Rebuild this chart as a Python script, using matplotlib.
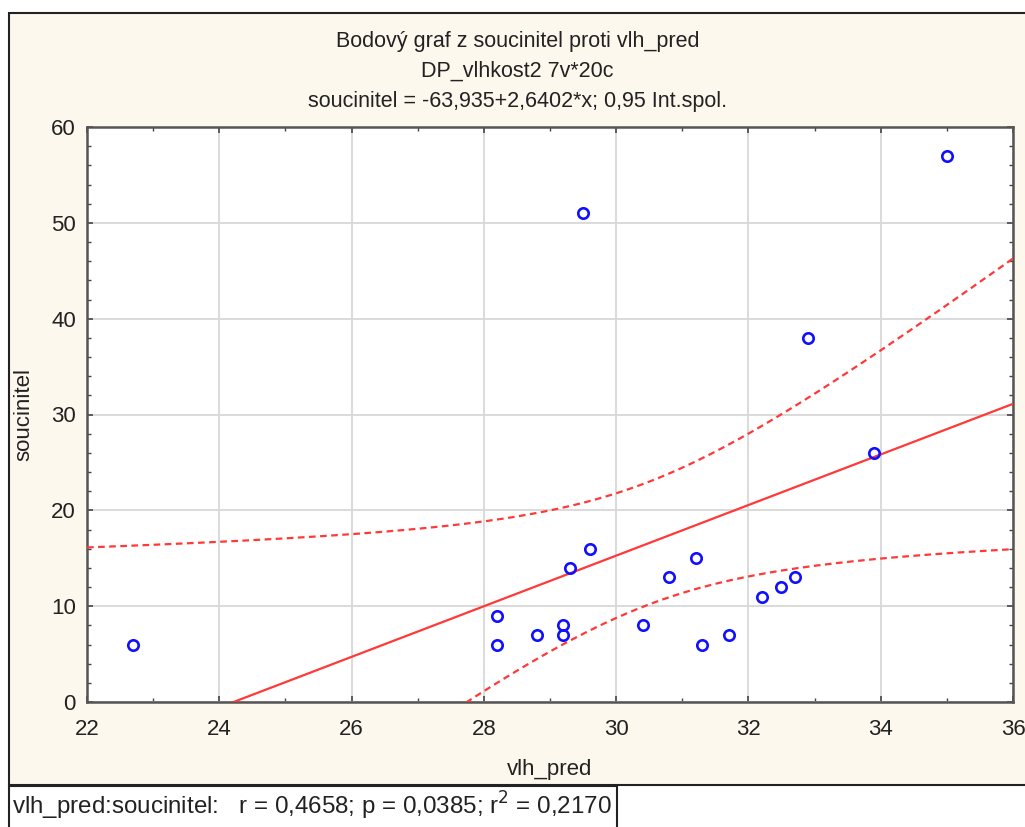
import numpy as np
import matplotlib
matplotlib.use("Agg")
import matplotlib.pyplot as plt
from matplotlib.patches import Rectangle
from matplotlib.ticker import MultipleLocator

# data
vlh_pred = [22.7, 28.2, 28.2, 28.8, 29.2, 29.2, 29.3, 29.5, 29.6, 30.4,
            30.8, 31.2, 31.3, 31.7, 32.2, 32.5, 32.7, 32.9, 33.9, 35.0]
soucinitel = [6, 9, 6, 7, 8, 7, 14, 51, 16, 8,
              13, 15, 6, 7, 11, 12, 13, 38, 26, 57]
intercept = -63.935
slope = 2.6402

plt.rcParams['font.family'] = ['Liberation Sans', 'DejaVu Sans']

fig = plt.figure(figsize=(10.25, 8.27), dpi=100)
fig.patch.set_facecolor('white')

# cream panel with frame
fig.patches.append(Rectangle((9 / 1025, 42 / 827), 1.02, 772 / 827, transform=fig.transFigure,
                             facecolor='#fdf8ee', edgecolor='#222222', linewidth=1.5, zorder=-10))
# stats box at the bottom
fig.patches.append(Rectangle((9 / 1025, -0.02), 608 / 1025, 41 / 827 + 0.02, transform=fig.transFigure,
                             facecolor='white', edgecolor='#222222', linewidth=1.5, zorder=-10))

ax = fig.add_axes([87 / 1025, 125 / 827, 926 / 1025, 575 / 827])
ax.set_facecolor('white')

# regression line + 95% confidence band for the mean
x = np.array(vlh_pred)
y = np.array(soucinitel)
n = len(x)
xs = np.linspace(22, 36, 200)
fit = intercept + slope * xs
resid = y - (intercept + slope * x)
s = np.sqrt(np.sum(resid ** 2) / (n - 2))
sxx = np.sum((x - x.mean()) ** 2)
t = 2.1009  # t(0.975, 18)
half = t * s * np.sqrt(1 / n + (xs - x.mean()) ** 2 / sxx)

ax.plot(xs, fit, color='#ff3838', lw=1.6, zorder=3)
ax.plot(xs, fit + half, color='#ff3838', lw=1.6, ls=(0, (3, 2)), zorder=3)
ax.plot(xs, fit - half, color='#ff3838', lw=1.6, ls=(0, (3, 2)), zorder=3)
ax.plot(x, y, 'o', ms=7.5, mfc='none', mec='#1010ff', mew=1.9, zorder=4)

ax.set_xlim(22, 36)
ax.set_ylim(0, 60)
ax.xaxis.set_major_locator(MultipleLocator(2))
ax.xaxis.set_minor_locator(MultipleLocator(1))
ax.yaxis.set_major_locator(MultipleLocator(10))
ax.yaxis.set_minor_locator(MultipleLocator(2))
ax.grid(True, which='major', color='#d8d8d8', lw=1.3)
ax.set_axisbelow(True)
ax.tick_params(which='both', direction='in', top=True, right=True,
               color='#444444', labelsize=16, labelcolor='#222222')
ax.tick_params(which='major', length=4, width=1.2, pad=8)
ax.tick_params(axis='x', which='major', pad=12)
ax.tick_params(which='minor', length=3, width=1)
for sp in ax.spines.values():
    sp.set_color('#555555')
    sp.set_linewidth(1.8)

ax.set_xlabel('vlh_pred', fontsize=16, color='#222222', labelpad=14)
ax.set_ylabel('soucinitel', fontsize=16, color='#222222', labelpad=12)

fig.text(0.505, 1 - 41 / 827, 'Bodový graf z soucinitel proti vlh_pred', ha='center', va='center',
         fontsize=15.5, color='#222222')
fig.text(0.505, 1 - 71 / 827, 'DP_vlhkost2 7v*20c', ha='center', va='center',
         fontsize=15.5, color='#222222')
fig.text(0.505, 1 - 101 / 827, 'soucinitel = -63,935+2,6402*x; 0,95 Int.spol.', ha='center', va='center',
         fontsize=15.5, color='#222222')
fig.text(12 / 1025, 1 - 806 / 827, 'vlh_pred:soucinitel:   r = 0,4658; p = 0,0385; r$^2$ = 0,2170',
         ha='left', va='center', fontsize=17.4, color='#222222')

fig.savefig('out.png', dpi=100)
